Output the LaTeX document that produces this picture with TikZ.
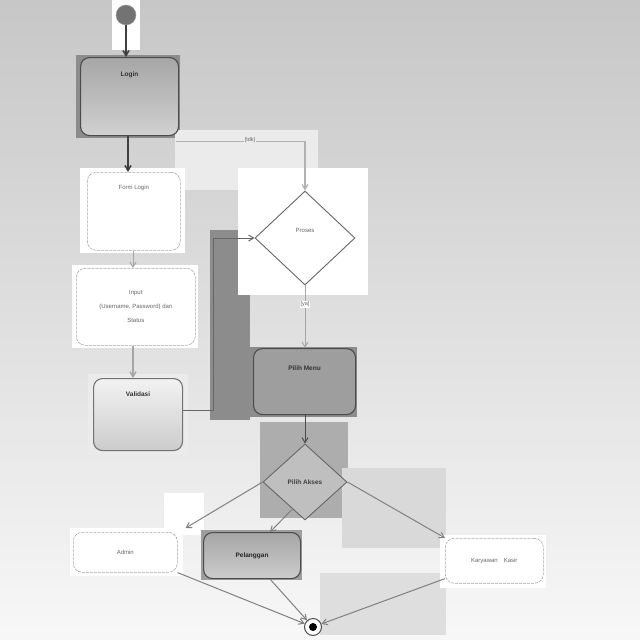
\documentclass[tikz,border=0pt]{standalone}
\usepackage{fontspec}
\setmainfont{Liberation Sans}
\usetikzlibrary{shapes.geometric,arrows.meta,calc}
\begin{document}
\begin{tikzpicture}[x=1pt,y=-1pt,
  act/.style={draw=black!70,line width=1.1pt,rounded corners=9pt,inner sep=0pt,font=\fontsize{6.5}{7}\selectfont\bfseries},
  actw/.style={draw=black!35,line width=0.6pt,dashed,dash pattern=on 3pt off 1pt,rounded corners=9pt,fill=white,inner sep=0pt,font=\fontsize{6}{7}\selectfont,text=black!60},
  dec/.style={diamond,draw=black!60,line width=0.9pt,inner sep=0pt,font=\fontsize{6}{7}\selectfont},
  flow/.style={draw=black!55,line width=1pt,-{Straight Barb[length=5pt,width=6pt]}},
  lbl/.style={font=\fontsize{5.5}{6}\selectfont,text=black!60,fill=white,inner sep=1pt}]
\useasboundingbox (0,0) rectangle (640,640);
% background
\shade[top color=black!22,bottom color=black!3] (0,0) rectangle (640,640);
% backdrops
\fill[white] (112,0) rectangle (140,50);
\fill[black!45] (76,55) rectangle (180,138);
\fill[black!8] (175,130) rectangle (318,190);
\fill[white] (80,168) rectangle (185,253);
\fill[white] (72,265) rectangle (198,348);
\fill[black!8] (88,374) rectangle (188,455);
\fill[black!45] (210,230) rectangle (250,420);
\fill[white] (238,168) rectangle (368,295);
\fill[black!45] (250,347) rectangle (357,417);
\fill[black!32] (260,422) rectangle (348,518);
\fill[black!15] (342,468) rectangle (446,548);
\fill[black!13] (320,573) rectangle (446,635);
\fill[white] (164,493) rectangle (204,535);
\fill[white] (70,528) rectangle (183,576);
\fill[black!38] (201,530) rectangle (302,580);
\fill[white] (440,535) rectangle (546,588);
% nodes
\node[circle,fill=black!55,draw=black!40,minimum size=20pt,inner sep=0pt] (start) at (126,15) {};
\node[act,top color=black!35,bottom color=black!18,minimum width=98pt,minimum height=78pt,anchor=north west,text=black!85] (login) at (80,57) {};
\node[font=\fontsize{6.5}{7}\selectfont\bfseries,text=black!80] at ($(login.north)+(0,18)$) {Login};
\node[actw,minimum width=93pt,minimum height=78pt,anchor=north west] (form) at (87,172) {};
\node[font=\fontsize{6}{7}\selectfont,text=black!60] at ($(form.north)+(0,16)$) {Form Login};
\node[actw,minimum width=119pt,minimum height=77pt,anchor=north west,align=center,font=\fontsize{6}{14}\selectfont] (input) at (76,268) {Input\\(Username, Password) dan\\Status};
\node[act,draw=black!55,top color=black!5,bottom color=black!20,minimum width=89pt,minimum height=72pt,anchor=north west] (valid) at (93,378) {};
\node[font=\fontsize{6.5}{7}\selectfont\bfseries,text=black!80] at ($(valid.north)+(0,16)$) {Validasi};
\node[dec,fill=white,minimum width=100pt,minimum height=94pt,text=black!60] (proses) at (305,238) {};
\node[font=\fontsize{6}{7}\selectfont,text=black!60] at (305,230) {Proses};
\node[act,fill=black!38,minimum width=102pt,minimum height=66pt,anchor=north west] (menu) at (253,348) {};
\node[font=\fontsize{6.5}{7}\selectfont\bfseries,text=black!80] at ($(menu.north)+(0,20)$) {Pilih Menu};
\node[dec,fill=black!25,minimum width=84pt,minimum height=76pt,font=\fontsize{6.5}{7}\selectfont\bfseries,text=black!75] (akses) at (305,482) {Pilih Akses};
\node[actw,minimum width=104pt,minimum height=40pt,anchor=north west] (admin) at (73,532) {Admin};
\node[act,top color=black!35,bottom color=black!20,minimum width=97pt,minimum height=46pt,anchor=north west,text=black!85] (pel) at (203,532) {Pelanggan};
\node[actw,minimum width=98pt,minimum height=45pt,anchor=north west] (kary) at (445,538) {Karyawan\quad Kasir};
\node[circle,draw=black!70,line width=1pt,fill=white,minimum size=17pt,inner sep=0pt] (end) at (313,627) {};
\fill[black] (end.center) circle (4pt);
% connectors
\draw[flow,draw=black!75,line width=1.6pt] (start.south) -- (start.south |- login.north);
\draw[flow,draw=black!75,line width=1.6pt] (login.south -| 128,0) -- (form.north -| 128,0);
\draw[flow,draw=black!30,line width=1.2pt] ($(login.south east)+(-3,5)$) -| (proses.north);
\node[lbl,fill=black!8] at (250,140) {[tdk]};
\draw[flow,draw=black!35] (form.south -| 133,0) -- (input.north -| 133,0);
\draw[flow,draw=black!35,line width=1.4pt] (input.south -| 133,0) -- (valid.north -| 133,0);
\draw[flow,draw=black!60] (valid.east |- 0,410) -- (213,410) |- (proses.west);
\draw[flow,draw=black!35] (proses.south) -- node[lbl,pos=0.3] {[ya]} (menu.north -| proses.south);
\draw[flow,draw=black!70] (menu.south -| akses.north) -- (akses.north);
\draw[flow,draw=black!50] (akses.west) -- ($(admin.north east)+(8,-4)$);
\draw[flow,draw=black!50] ($(akses.south)+(-12,-12)$) -- ($(pel.north)+(18,0)$);
\draw[flow,draw=black!50] (akses.east) -- (kary.north west);
\draw[flow,draw=black!50] (admin.south east) -- (end);
\draw[flow,draw=black!50] ($(pel.south)+(18,0)$) -- (end);
\draw[flow,draw=black!50] ($(kary.south west)+(0,-5)$) -- (end);
\end{tikzpicture}
\end{document}
